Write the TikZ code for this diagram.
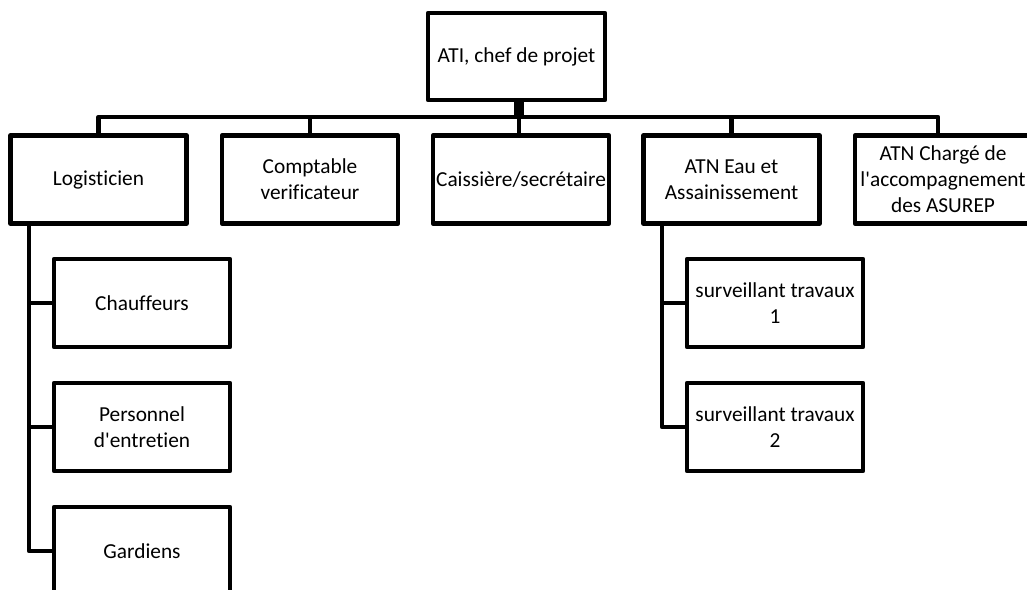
\documentclass[tikz,border=0pt]{standalone}
\usepackage{fontspec}
\setmainfont{Carlito}[Ligatures={NoCommon}]
\begin{document}
\begin{tikzpicture}[x=0.75pt,y=-0.75pt,
  box/.style={draw,line width=3.5pt,line join=round,minimum width=132pt,minimum height=66pt,align=center,inner sep=0pt,font=\fontsize{16}{19.5}\selectfont},
  link/.style={line width=3.5pt,line join=round},
  heavy/.style={line width=7.5pt}]
\useasboundingbox (0,0) rectangle (1027,589);
\clip (0,0) rectangle (1027,589);
\node[box,minimum width=132.75pt,minimum height=65.25pt] (top) at (516.5,56.5) {ATI, chef de projet};
\node[box] (log) at (98.5,179.5) {Logisticien};
\node[box] (comp) at (310,179.5) {Comptable\\verificateur};
\node[box] (cais) at (521,179.5) {Caissière/secrétaire};
\node[box] (eau) at (731.5,179.5) {ATN Eau et\\Assainissement};
\node[box] (chg) at (943,179.5) {ATN Chargé de\\l\textquotesingle accompagnement\\des ASUREP};
\node[box] (chauf) at (142,303) {Chauffeurs};
\node[box] (pers) at (142,427) {Personnel\\d\textquotesingle entretien};
\node[box] (gard) at (142,551) {Gardiens};
\node[box] (sv1) at (775,303) {surveillant travaux\\1};
\node[box] (sv2) at (775,427) {surveillant travaux\\2};
\coordinate (bar) at (519,117);
\coordinate (c5) at (938,117);
\coordinate (lx) at (29,0);
\coordinate (ex) at (662,0);
\draw[heavy] (top.south -| bar) -- (bar);
\draw[link] (log.north) |- (c5) -- (c5 |- chg.north);
\draw[link] (comp.north) -- (comp.north |- bar);
\draw[link] (bar) -- (bar |- cais.north);
\draw[link] (eau.north) -- (eau.north |- bar);
\draw[link] (log.south -| lx) |- (gard.west);
\draw[link] (chauf.west) -- (chauf.west -| lx);
\draw[link] (pers.west) -- (pers.west -| lx);
\draw[link] (eau.south -| ex) |- (sv2.west);
\draw[link] (sv1.west) -- (sv1.west -| ex);
\end{tikzpicture}
\end{document}
